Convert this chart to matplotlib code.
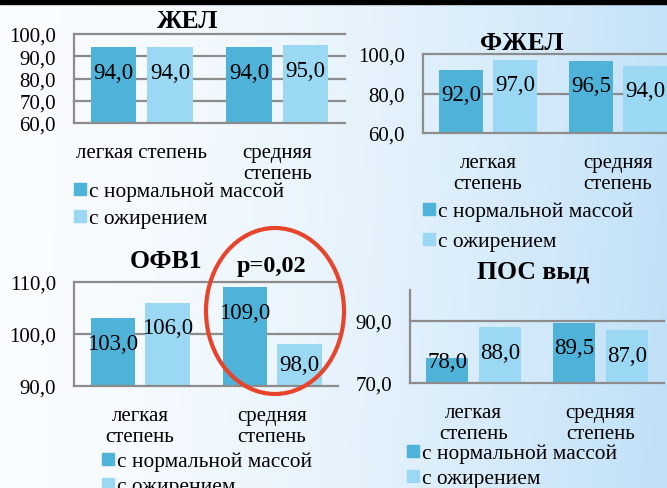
import numpy as np
import matplotlib.pyplot as plt
from matplotlib.patches import Rectangle, Ellipse

plt.rcParams["font.family"] = ["Liberation Serif", "DejaVu Serif"]

W, H = 667, 489

groups = ["с нормальной массой", "с ожирением"]
cats_one_line = ["легкая степень", "средняя\nстепень"]
cats_wrapped = ["легкая\nстепень", "средняя\nстепень"]

zhel_normal = [94.0, 94.0]
zhel_obese = [94.0, 95.0]
fzhel_normal = [92.0, 96.5]
fzhel_obese = [97.0, 94.0]
ofv1_normal = [103.0, 109.0]
ofv1_obese = [106.0, 98.0]
pos_normal = [78.0, 89.5]
pos_obese = [88.0, 87.0]

DARK = "#4fb2d8"
LIGHT = "#9bd8f3"
GRID = "#8c8c8c"
FS = 15
FS_VAL = 16.5
FS_TITLE = 18.5


def fx(x):
    return x / W


def fy(y):
    return 1 - y / H


def comma(v):
    return f"{v:.1f}".replace(".", ",")


fig = plt.figure(figsize=(W / 100, H / 100), dpi=100)

# background: white on the left fading to light blue on the right
bg = fig.add_axes([0, 0, 1, 1], zorder=-10)
xx = np.linspace(0, 1, 400)
yy = np.linspace(0, 1, 300)
X, Y = np.meshgrid(xx, yy)
t = np.clip(X ** 1.7 * 0.92 + 0.08 * X * Y, 0, 1)
c0 = np.array([0.98, 0.99, 1.0])
c1 = np.array([0.75, 0.878, 0.968])
img = c0[None, None, :] * (1 - t[..., None]) + c1[None, None, :] * t[..., None]
bg.imshow(img, extent=[0, 1, 0, 1], aspect="auto", origin="upper")
bg.add_patch(Rectangle((0, fy(4.5)), 1, 1, color="black", transform=bg.transAxes))
bg.set_xlim(0, 1)
bg.set_ylim(0, 1)
bg.axis("off")


def panel(left, top, width, bottom, normal, obese, ylim, yticks, labels, top_grid=True):
    ax = fig.add_axes([fx(left), fy(bottom), fx(width), (bottom - top) / H])
    ax.patch.set_alpha(0)
    x = np.arange(len(normal))
    bw, gap = 0.335, 0.08
    off = (bw + gap) / 2
    ax.bar(x - off, np.array(normal) - ylim[0], bw, bottom=ylim[0], color=DARK, zorder=2)
    ax.bar(x + off, np.array(obese) - ylim[0], bw, bottom=ylim[0], color=LIGHT, zorder=2)
    ax.set_xlim(-0.5, len(normal) - 0.5)
    ax.set_ylim(*ylim)
    ax.set_yticks(yticks)
    ax.set_yticklabels([comma(v) for v in yticks], fontsize=FS)
    ax.tick_params(axis="y", length=0, pad=13)
    ax.set_xticks(x)
    ax.set_xticklabels(labels, fontsize=FS, linespacing=1.15)
    ax.tick_params(axis="x", length=0, pad=14.5)
    grid_vals = [v for v in yticks if v != ylim[0] and (top_grid or v != ylim[1])]
    for v in grid_vals:
        ax.axhline(v, color=GRID, lw=1.6, zorder=1, clip_on=False)
    for s in ["top", "right"]:
        ax.spines[s].set_visible(False)
    for s in ["left", "bottom"]:
        ax.spines[s].set_color(GRID)
        ax.spines[s].set_linewidth(1.6)
    # value labels sit inside the bars, below the bar top
    ppu = (bottom - top) / (ylim[1] - ylim[0])
    for xs, vals in [(x - off, normal), (x + off, obese)]:
        for xi, v in zip(xs, vals):
            ly = max(v - 25 / ppu, ylim[0] + 21 / ppu)
            ax.text(xi, ly, comma(v), ha="center", va="center", fontsize=FS_VAL, zorder=3)
    return ax


def legend_at(x, y, dy, size=12):
    for i, (lab, col) in enumerate(zip(groups, [DARK, LIGHT])):
        yc = y + i * dy
        fig.patches.append(Rectangle((fx(x), fy(yc + size / 2)), size / W, size / H,
                                     color=col, transform=fig.transFigure))
        fig.text(fx(x + size + 3), fy(yc), lab, fontsize=15.4, va="center_baseline", ha="left")


panel(74, 35, 271, 124, zhel_normal, zhel_obese, (60, 100), [60, 70, 80, 90, 100], cats_one_line)
fig.text(fx(188), fy(21), "ЖЕЛ", fontsize=FS_TITLE, fontweight="bold", ha="center", va="center")
legend_at(74, 190, 27)

panel(423, 55, 260, 134, fzhel_normal, fzhel_obese, (60, 100), [60, 80, 100], cats_wrapped)
fig.text(fx(522), fy(43), "ФЖЕЛ", fontsize=FS_TITLE, fontweight="bold", ha="center", va="center")
legend_at(423, 210, 30)

panel(74, 283, 264, 387, ofv1_normal, ofv1_obese, (90, 110), [90, 100, 110], cats_wrapped)
fig.text(fx(166), fy(262), "ОФВ1", fontsize=FS_TITLE, fontweight="bold", ha="center", va="center")
fig.text(fx(272), fy(267), "p=0,02", fontsize=17.5, fontweight="bold", ha="center", va="center")
legend_at(102, 460, 25)

panel(410, 291, 254, 384, pos_normal, pos_obese, (70, 100), [70, 90], cats_wrapped, top_grid=False)
fig.text(fx(533), fy(272), "ПОС выд", fontsize=FS_TITLE, fontweight="bold", ha="center", va="center")
legend_at(407, 452, 25)

# highlight around the significant pair
fig.patches.append(Ellipse((fx(275), fy(312)), 138 / W, 166 / H, fill=False,
                           edgecolor="#e8432b", lw=3, transform=fig.transFigure, zorder=5))

fig.savefig("out.png", dpi=100)
